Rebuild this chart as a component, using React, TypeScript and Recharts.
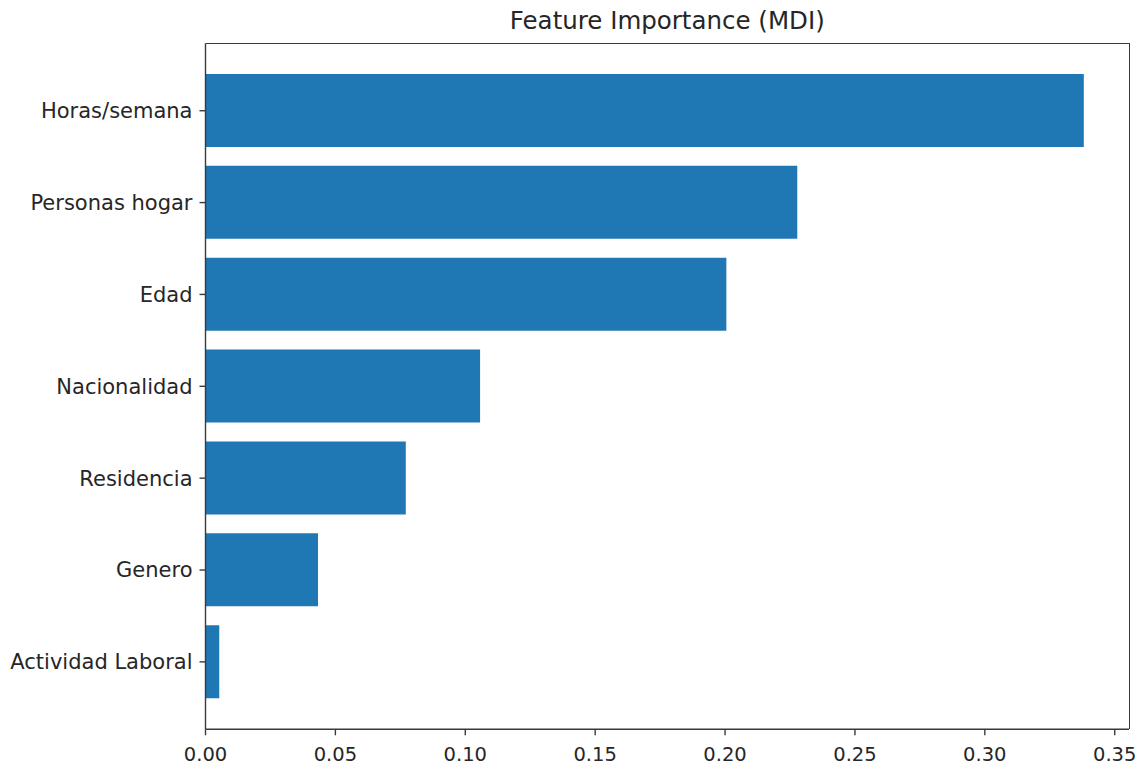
import { BarChart, Bar, XAxis, YAxis } from 'recharts';

const FEATURES = [
  'Horas/semana',
  'Personas hogar',
  'Edad',
  'Nacionalidad',
  'Residencia',
  'Genero',
  'Actividad Laboral',
];

const IMPORTANCE = [0.3381, 0.2278, 0.2005, 0.1057, 0.0771, 0.0433, 0.0053];

const X_TICKS = [0, 0.05, 0.1, 0.15, 0.2, 0.25, 0.3, 0.35];

const X_MAX = 0.3555;

const data = FEATURES.map((feature, i) => ({ feature, importance: IMPORTANCE[i] }));

const FONT = '"DejaVu Sans", sans-serif';
const TEXT = '#262626';
const SPINE = '#3a3a3a';

// plot box, shared by the chart margins and the top/right spines
const PLOT = { left: 205.5, top: 43.3, right: 15, bottom: 38.7 };

export default function App() {
  return (
    <div style={{ position: 'absolute', left: 0, top: 0, width: 1144, height: 768, background: '#fff' }}>
      <div
        style={{
          position: 'absolute',
          left: PLOT.left,
          right: PLOT.right,
          top: 6,
          textAlign: 'center',
          fontFamily: FONT,
          fontSize: 24.5,
          color: TEXT,
        }}
      >
        Feature Importance (MDI)
      </div>
      <BarChart
        width={1144}
        height={768}
        data={data}
        layout="vertical"
        margin={{ top: PLOT.top, right: PLOT.right, bottom: 0, left: 0 }}
        barCategoryGap="10%"
      >
        <XAxis
          type="number"
          domain={[0, X_MAX]}
          ticks={X_TICKS}
          allowDataOverflow
          height={PLOT.bottom}
          tickFormatter={(v: number) => v.toFixed(2)}
          tick={{ fill: TEXT, fontSize: 19.5, fontFamily: FONT }}
          tickSize={6}
          tickMargin={12}
          axisLine={{ stroke: SPINE, strokeWidth: 1.4 }}
          tickLine={{ stroke: SPINE, strokeWidth: 1.4 }}
        />
        <YAxis
          type="category"
          dataKey="feature"
          width={PLOT.left}
          padding={{ top: 21.5, bottom: 21.5 }}
          tick={{ fill: TEXT, fontSize: 21, fontFamily: FONT }}
          tickSize={6}
          tickMargin={7}
          interval={0}
          axisLine={{ stroke: SPINE, strokeWidth: 1.4 }}
          tickLine={{ stroke: SPINE, strokeWidth: 1.4 }}
        />
        <Bar dataKey="importance" fill="#1f77b4" isAnimationActive={false} />
      </BarChart>
      {/* top and right spines */}
      <div
        style={{
          position: 'absolute',
          left: PLOT.left,
          right: PLOT.right - 0.7,
          top: PLOT.top - 0.7,
          bottom: PLOT.bottom,
          borderTop: `1.4px solid ${SPINE}`,
          borderRight: `1.4px solid ${SPINE}`,
          pointerEvents: 'none',
        }}
      />
    </div>
  );
}
